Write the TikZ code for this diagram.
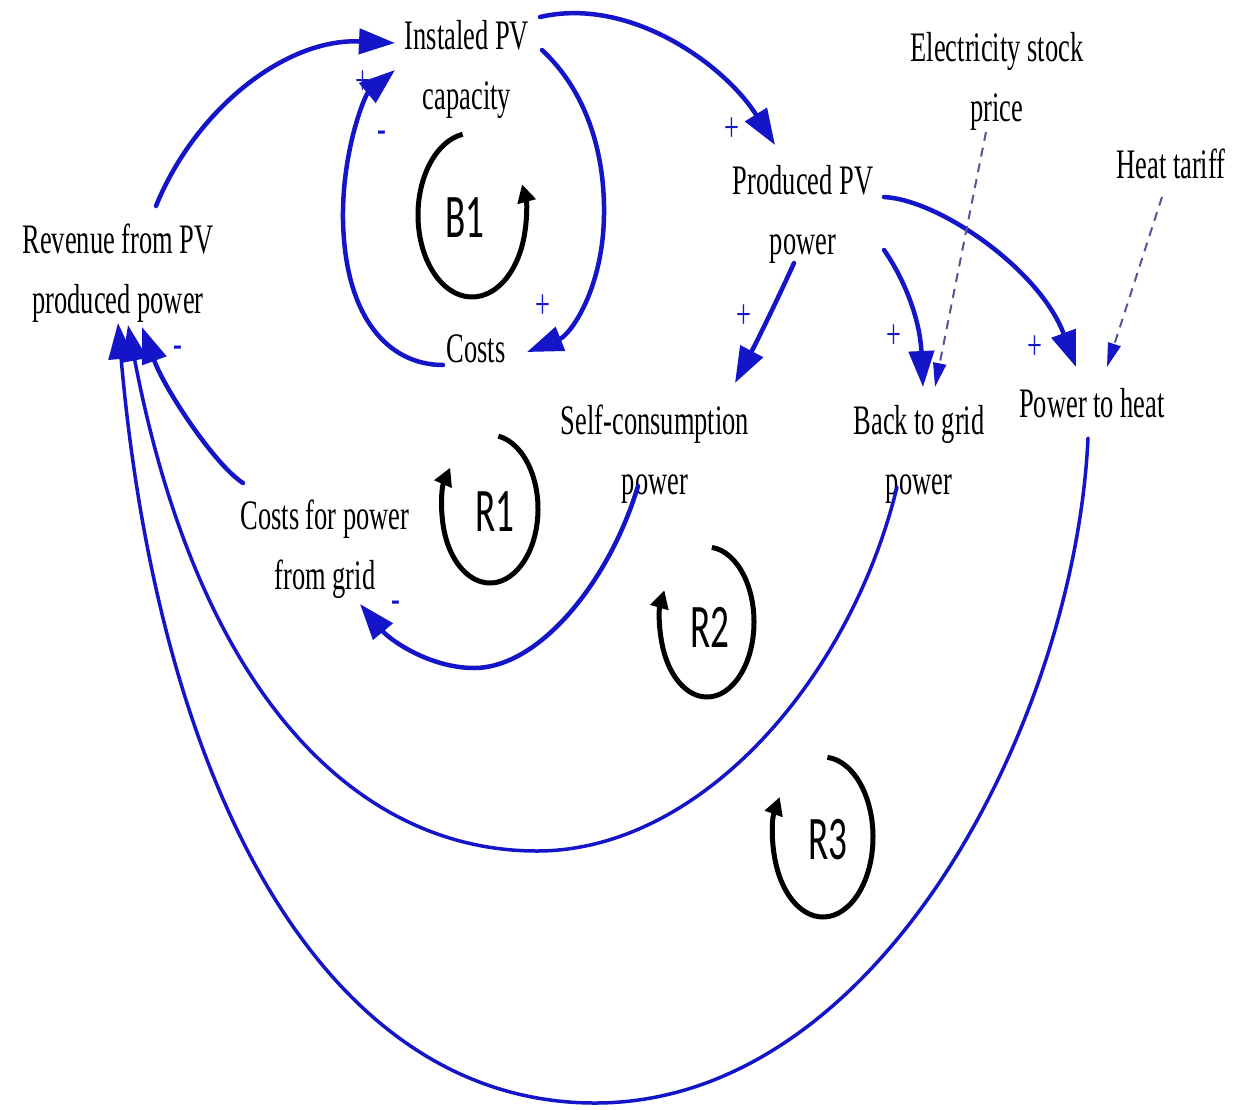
\documentclass[tikz,border=0pt]{standalone}
\usepackage{fontspec}
\setmainfont{Liberation Serif}[FakeStretch=0.63]
\newfontfamily\loopfont{Carlito}[FakeStretch=0.6]
\usetikzlibrary{arrows.meta}
\definecolor{linkblue}{RGB}{20,20,200}
\definecolor{dashblue}{RGB}{85,85,150}
\begin{document}
\begin{tikzpicture}[x=1pt,y=-1pt,
  var/.style={align=center, inner sep=0pt, font=\fontsize{42}{60}\selectfont, text=black},
  sign/.style={inner sep=0pt, font=\fontsize{42}{48}\selectfont, text=linkblue},
  link/.style={draw=linkblue, line width=4.5pt, line cap=round, -{Triangle[length=36pt,width=25pt]}},
  biglink/.style={link, line width=3.5pt},
  infolink/.style={draw=dashblue, line width=2pt, dash pattern=on 9pt off 7pt, -{Triangle[length=24pt,width=13pt,color=linkblue]}},
  loopmark/.style={draw=black, line width=5pt, -{Triangle[length=18pt,width=18pt]}},
  looplabel/.style={inner sep=0pt, font=\loopfont\fontsize{62}{62}\selectfont}
]
\useasboundingbox[fill=white] (0,0) rectangle (1256,1109);

% variables
\node[var] (inst)  at (467,69)  {Instaled PV\\capacity};
\node[var] (prod)  at (803,214) {Produced PV\\power};
\node[var] (elec)  at (997,81)  {Electricity stock\\price};
\node[var] (heat)  at (1171,164) {Heat tariff};
\node[var] (rev)   at (118,273) {Revenue from PV\\produced power};
\node[var] (costs) at (476,349) {Costs};
\node[var] (self)  at (655,454) {Self-consumption\\power};
\node[var] (back)  at (919,454) {Back to grid\\power};
\node[var] (p2h)   at (1092,403) {Power to heat};
\node[var] (cgrid) at (325,549) {Costs for power\\from grid};

% links
\draw[link] ([shift={(38,-67)}]rev.center) .. controls (195,110) and (285,38) .. ([shift={(-72,-26)}]inst.center);
\draw[link] ([shift={(-33,16)}]costs.center) .. controls (390,365) and (345,320) .. (343,220) .. controls (342,150) and (365,95) .. ([shift={(-72,1)}]inst.center);
\draw[link] ([shift={(75,-19)}]inst.center) .. controls (585,90) and (605,150) .. (604,215) .. controls (603,290) and (570,335) .. ([shift={(51,3)}]costs.center);
\draw[link] ([shift={(73,-52)}]inst.center) .. controls (630,-4) and (725,65) .. ([shift={(-28,-69)}]prod.center);
\draw[link] ([shift={(-9,49)}]prod.center) .. controls (775,305) and (755,345) .. ([shift={(80,-71)}]self.center);
\draw[link] ([shift={(81,36)}]prod.center) .. controls (905,280) and (920,320) .. ([shift={(4,-67)}]back.center);
\draw[link] ([shift={(81,-17)}]prod.center) .. controls (940,200) and (1040,270) .. ([shift={(-16,-36)}]p2h.center);
\draw[infolink] ([shift={(-11,51)}]elec.center) -- ([shift={(16,-67)}]back.center);
\draw[infolink] ([shift={(-9,33)}]heat.center) -- ([shift={(15,-36)}]p2h.center);
\draw[link] ([shift={(-17,32)}]self.center) .. controls (610,580) and (540,668) .. (474,668) .. controls (430,668) and (390,640) .. ([shift={(35,55)}]cgrid.center);
\draw[link] ([shift={(-82,-66)}]cgrid.center) .. controls (215,465) and (165,390) .. ([shift={(24,54)}]rev.center);
\draw[biglink] ([shift={(-22,33)}]back.center) .. controls (850,680) and (700,851) .. (537,851) .. controls (360,851) and (200,700) .. ([shift={(10,52)}]rev.center);
\draw[biglink] ([shift={(-4,35)}]p2h.center) .. controls (1075,720) and (880,1103) .. (595,1103) .. controls (330,1103) and (160,800) .. ([shift={(0,50)}]rev.center);

% polarity signs
\node[sign] (s1) at (363,83) {+};
\node[sign] (s2) at (382,137) {-};
\node[sign] (s3) at (543,307) {+};
\node[sign] (s4) at (732,130) {+};
\node[sign] (s5) at (744,317) {+};
\node[sign] (s6) at (894,337) {+};
\node[sign] (s7) at (1035,348) {+};
\node[sign] (s8) at (396,607) {-};
\node[sign] (s9) at (178,352) {-};

% loop markers
\coordinate (b1c) at (472,215);
\coordinate (r1c) at (490,509);
\coordinate (r2c) at (707,622);
\coordinate (r3c) at (823,837);
\draw[loopmark] ([shift={(260:54 and 82)}]b1c) arc[start angle=260, end angle=-22, x radius=54, y radius=82];
\draw[loopmark] ([shift={(-80:48 and 74)}]r1c) arc[start angle=-80, end angle=214, x radius=48, y radius=74];
\draw[loopmark] ([shift={(-84:47 and 75)}]r2c) arc[start angle=-84, end angle=205, x radius=47, y radius=75];
\draw[loopmark] ([shift={(-85:50 and 80)}]r3c) arc[start angle=-85, end angle=210, x radius=50, y radius=80];
\node[looplabel] (b1) at (465,218) {B1};
\node[looplabel] (r1) at (495,512) {R1};
\node[looplabel] (r2) at (710,627) {R2};
\node[looplabel] (r3) at (828,840) {R3};
\end{tikzpicture}
\end{document}
